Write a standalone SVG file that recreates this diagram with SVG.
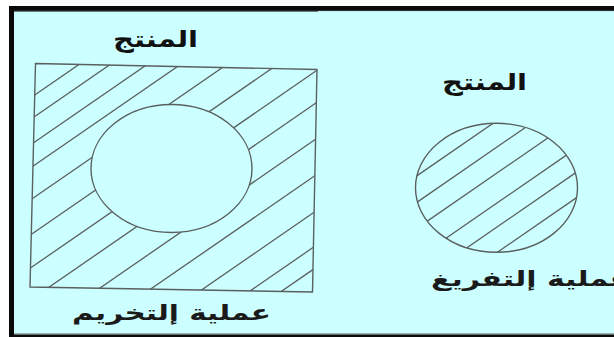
<svg xmlns="http://www.w3.org/2000/svg" width="614" height="337" viewBox="0 0 614 337">
  <style>
    .edge { fill: none; stroke: #5a5f5f; stroke-width: 1.4; }
    .hatch { stroke: #5a5f5f; stroke-width: 1.3; fill: none; }
    .title { font-family: "DejaVu Sans", sans-serif; font-weight: bold; font-size: 23px; fill: #111; }
    .label { font-family: "DejaVu Sans", sans-serif; font-weight: bold; font-size: 21px; fill: #1a1a1a; }
  </style>
  <defs>
    <clipPath id="sqClip">
      <polygon points="35.5,63.5 317,69.5 312.5,292 30,287"/>
    </clipPath>
    <clipPath id="circClip">
      <ellipse cx="496.5" cy="187.8" rx="81" ry="64.5"/>
    </clipPath>
  </defs>

  <!-- frame -->
  <rect x="0" y="0" width="614" height="337" fill="#ffffff"/>
  <rect x="9" y="6" width="605" height="331" fill="#0a0a0a"/>
  <rect x="14" y="10.7" width="600" height="324" fill="#8a9a9a"/>
  <rect x="14" y="11.2" width="600" height="322" fill="#ccffff"/>
  <rect x="14" y="10.7" width="304" height="0.8" fill="#0a0a0a"/>

  <!-- node: piercing (square with hole) -->
  <g id="piercing">
    <g clip-path="url(#sqClip)" class="hatch">
      <line x1="20" y1="105.2" x2="330" y2="-108.7"/>
      <line x1="20" y1="126.7" x2="330" y2="-87.2"/>
      <line x1="20" y1="152.2" x2="330" y2="-61.7"/>
      <line x1="20" y1="175.2" x2="330" y2="-38.7"/>
      <line x1="20" y1="207.2" x2="330" y2="-6.7"/>
      <line x1="20" y1="242.2" x2="330" y2="28.3"/>
      <line x1="20" y1="275.2" x2="330" y2="61.3"/>
      <line x1="20" y1="307.2" x2="330" y2="93.3"/>
      <line x1="20" y1="343.2" x2="330" y2="129.3"/>
      <line x1="20" y1="379.2" x2="330" y2="165.3"/>
      <line x1="20" y1="415.2" x2="330" y2="201.3"/>
      <line x1="20" y1="449.7" x2="330" y2="235.8"/>
      <line x1="20" y1="471.7" x2="330" y2="257.8"/>
    </g>
    <ellipse cx="171.5" cy="168.5" rx="80.5" ry="64" fill="#ccffff" stroke="#5a5f5f" stroke-width="1.4"/>
    <polygon class="edge" points="35.5,63.5 317,69.5 312.5,292 30,287"/>
    <text class="title" x="155.5" y="47" text-anchor="middle" textLength="85" lengthAdjust="spacingAndGlyphs">المنتج</text>
    <text class="label" x="171.5" y="320" text-anchor="middle" textLength="199" lengthAdjust="spacingAndGlyphs">عملية إلتخريم</text>
  </g>

  <!-- node: blanking (hatched disc) -->
  <g id="blanking">
    <g clip-path="url(#circClip)" class="hatch">
      <line x1="410" y1="180.6" x2="585" y2="59.8"/>
      <line x1="410" y1="207.1" x2="585" y2="86.3"/>
      <line x1="410" y1="233.1" x2="585" y2="112.3"/>
      <line x1="410" y1="263.1" x2="585" y2="142.3"/>
      <line x1="410" y1="287.1" x2="585" y2="166.3"/>
      <line x1="410" y1="312.6" x2="585" y2="191.8"/>
    </g>
    <ellipse class="edge" cx="496.5" cy="187.8" rx="81" ry="64.5"/>
    <text class="title" x="484.5" y="90" text-anchor="middle" textLength="85" lengthAdjust="spacingAndGlyphs">المنتج</text>
    <text class="label" x="530.5" y="286" text-anchor="middle" textLength="199" lengthAdjust="spacingAndGlyphs">عملية إلتفريغ</text>
  </g>

  <g id="connectors"/>
</svg>
